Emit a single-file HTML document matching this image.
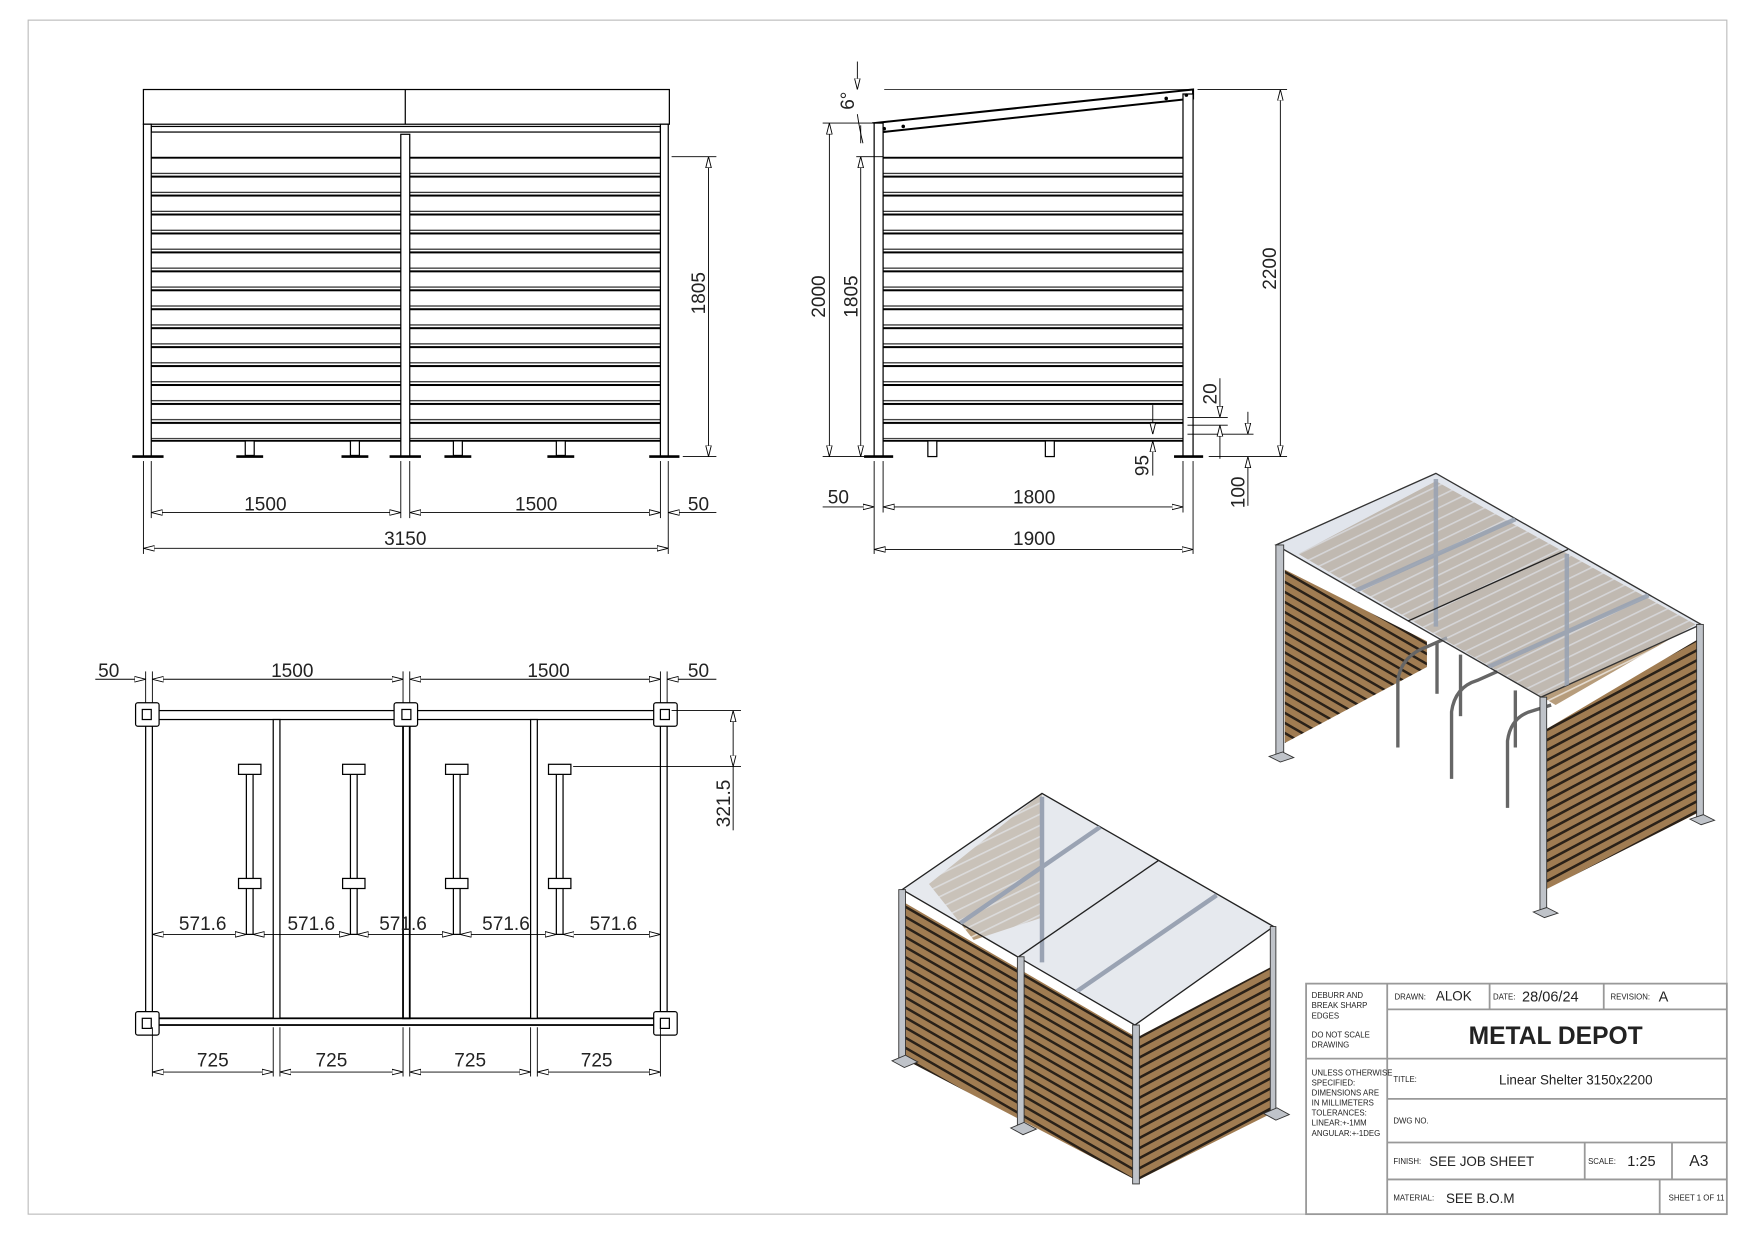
<!DOCTYPE html>
<html><head><meta charset="utf-8"><style>
html,body{margin:0;padding:0;background:#fff}
svg{display:block}
text{font-family:"Liberation Sans",sans-serif;fill:#222}
</style></head><body>
<svg width="1755" height="1241" viewBox="0 0 1568 1109" xmlns="http://www.w3.org/2000/svg">
<defs>
<marker id="a" viewBox="0 0 10 6" refX="10" refY="3" markerWidth="10" markerHeight="6" orient="auto-start-reverse" markerUnits="userSpaceOnUse"><path d="M0,0.5 L10,3 L0,5.5 Z" fill="#fff" stroke="#000" stroke-width="0.8"/></marker>
<pattern id="wl" width="20" height="9" patternUnits="userSpaceOnUse" patternTransform="skewY(30)"><rect width="20" height="9" fill="#a07c52"/><rect width="20" height="2.6" fill="#2a2118"/></pattern>
<pattern id="wr" width="20" height="9" patternUnits="userSpaceOnUse" patternTransform="skewY(-28)"><rect width="20" height="9" fill="#a07c52"/><rect width="20" height="2.6" fill="#2a2118"/></pattern>
<pattern id="wb" width="20" height="10" patternUnits="userSpaceOnUse" patternTransform="skewY(-26)"><rect width="20" height="10" fill="#b79d7c"/><rect width="20" height="1.6" fill="#e4dbd0"/></pattern>
<pattern id="slat" width="10" height="16.93" patternUnits="userSpaceOnUse" y="140"><rect width="10" height="16.93" fill="#fff"/><rect y="0" width="10" height="1.8" fill="#000"/><rect y="14.5" width="10" height="0.9" fill="#000"/></pattern>
<clipPath id="rr"><polygon points="1140,487 1283,423 1520,558 1377,623"/></clipPath>
<clipPath id="lr"><polygon points="806,795 931,709 1138,828 1014,916"/></clipPath>
</defs>
<rect x="25" y="18" width="1518" height="1067" fill="none" stroke="#bbb" stroke-width="1"/>

<g stroke="#000" stroke-width="1.1" fill="none">
<rect x="128" y="80" width="470" height="31" fill="#fff"/>
<line x1="362" y1="80" x2="362" y2="111"/>
<rect x="135" y="113" width="455" height="5" fill="#fff"/>
<rect x="135" y="140" width="223" height="254" fill="url(#slat)" stroke="none"/>
<rect x="366" y="140" width="224" height="254" fill="url(#slat)" stroke="none"/>
<line x1="135" y1="394" x2="590" y2="394" stroke-width="1.6"/>
<rect x="128" y="111" width="7" height="297" fill="#fff"/>
<rect x="358" y="120" width="8" height="288" fill="#fff"/>
<rect x="590" y="111" width="7" height="297" fill="#fff"/>
<g fill="#fff"><rect x="219" y="394" width="8" height="13"/><rect x="313" y="394" width="8" height="13"/><rect x="405" y="394" width="8" height="13"/><rect x="497" y="394" width="8" height="13"/></g>
<g stroke-width="2.4"><line x1="118" y1="408" x2="146" y2="408"/><line x1="211" y1="408" x2="235" y2="408"/><line x1="305" y1="408" x2="329" y2="408"/><line x1="348" y1="408" x2="376" y2="408"/><line x1="397" y1="408" x2="421" y2="408"/><line x1="489" y1="408" x2="513" y2="408"/><line x1="580" y1="408" x2="607" y2="408"/></g>
<g stroke-width="0.8"><line x1="128" y1="412" x2="128" y2="495"/><line x1="135" y1="412" x2="135" y2="463"/><line x1="358" y1="412" x2="358" y2="463"/><line x1="366" y1="412" x2="366" y2="463"/><line x1="590" y1="412" x2="590" y2="463"/><line x1="597" y1="412" x2="597" y2="495"/>
<line x1="135" y1="458" x2="358" y2="458" marker-start="url(#a)" marker-end="url(#a)"/>
<line x1="366" y1="458" x2="590" y2="458" marker-start="url(#a)" marker-end="url(#a)"/>
<line x1="640" y1="458" x2="597" y2="458" marker-end="url(#a)"/>
<line x1="128" y1="490" x2="597" y2="490" marker-start="url(#a)" marker-end="url(#a)"/>
<line x1="600" y1="140" x2="640" y2="140"/><line x1="610" y1="408" x2="640" y2="408"/>
<line x1="633" y1="140" x2="633" y2="408" marker-start="url(#a)" marker-end="url(#a)"/></g>

<rect x="789" y="140" width="268" height="254" fill="url(#slat)" stroke="none"/>
<line x1="789" y1="394" x2="1057" y2="394" stroke-width="1.6"/>
<polygon points="781,110 1066,80 1066,88 789,118" fill="#fff" stroke-width="1.8"/>
<rect x="781" y="110" width="8" height="298" fill="#fff"/>
<rect x="1057" y="84" width="9" height="324" fill="#fff"/>
<g fill="#000" stroke="none"><circle cx="790" cy="115" r="1.6"/><circle cx="807" cy="113" r="1.6"/><circle cx="1042" cy="88" r="1.6"/><circle cx="1060" cy="85" r="1.6"/></g>
<g fill="#fff"><rect x="829" y="394" width="8" height="14"/><rect x="934" y="394" width="8" height="14"/></g>
<g stroke-width="2.4"><line x1="772" y1="408" x2="798" y2="408"/><line x1="1049" y1="408" x2="1075" y2="408"/></g>
<g stroke-width="0.8">
<line x1="735" y1="110" x2="781" y2="110"/><line x1="735" y1="408" x2="775" y2="408"/>
<line x1="741" y1="110" x2="741" y2="408" marker-start="url(#a)" marker-end="url(#a)"/>
<line x1="765" y1="140" x2="789" y2="140"/>
<line x1="769" y1="140" x2="769" y2="408" marker-start="url(#a)" marker-end="url(#a)"/>
<line x1="1070" y1="80" x2="1150" y2="80"/><line x1="1080" y1="408" x2="1150" y2="408"/>
<line x1="1144" y1="80" x2="1144" y2="408" marker-start="url(#a)" marker-end="url(#a)"/>
<line x1="1066" y1="80" x2="790" y2="80" stroke-width="0.6"/>
<line x1="766" y1="55" x2="766" y2="80" marker-end="url(#a)"/><path d="M766,102 Q768,116 771,128"/><line x1="769" y1="112" x2="769" y2="128"/>
<line x1="1061" y1="373" x2="1097" y2="373"/><line x1="1061" y1="380" x2="1097" y2="380"/><line x1="1061" y1="388" x2="1120" y2="388"/>
<line x1="1090" y1="338" x2="1090" y2="373" marker-end="url(#a)"/><line x1="1090" y1="410" x2="1090" y2="380" marker-end="url(#a)"/>
<line x1="1030" y1="362" x2="1030" y2="388" marker-end="url(#a)"/><line x1="1030" y1="425" x2="1030" y2="394" marker-end="url(#a)"/>
<line x1="1115" y1="368" x2="1115" y2="388" marker-end="url(#a)"/><line x1="1115" y1="452" x2="1115" y2="408" marker-end="url(#a)"/>
<line x1="781" y1="412" x2="781" y2="495"/><line x1="789" y1="412" x2="789" y2="458"/><line x1="1057" y1="412" x2="1057" y2="458"/><line x1="1066" y1="412" x2="1066" y2="495"/>
<line x1="735" y1="453" x2="781" y2="453" marker-end="url(#a)"/>
<line x1="789" y1="453" x2="1057" y2="453" marker-start="url(#a)" marker-end="url(#a)"/>
<line x1="781" y1="491" x2="1066" y2="491" marker-start="url(#a)" marker-end="url(#a)"/></g>

<rect x="128" y="635" width="469" height="8" fill="#fff"/>
<rect x="128" y="910" width="469" height="6" fill="#fff" stroke-width="1.6"/>
<rect x="130" y="643" width="6" height="267" fill="#fff"/>
<rect x="590" y="643" width="6" height="267" fill="#fff"/>
<rect x="360" y="643" width="6" height="267" fill="#fff" stroke-width="1.6"/>
<rect x="244" y="643" width="6" height="267" fill="#fff"/>
<rect x="474" y="643" width="6" height="267" fill="#fff"/>
<g fill="#fff">
<rect x="121" y="628" width="21" height="21" rx="2"/><rect x="127" y="634" width="8" height="9"/>
<rect x="352" y="628" width="21" height="21" rx="2"/><rect x="359" y="634" width="8" height="9"/>
<rect x="584" y="628" width="21" height="21" rx="2"/><rect x="590" y="634" width="8" height="9"/>
<rect x="121" y="904" width="21" height="21" rx="2"/><rect x="127" y="910" width="8" height="9"/>
<rect x="584" y="904" width="21" height="21" rx="2"/><rect x="590" y="910" width="8" height="9"/>
</g>
<g fill="#fff">
<rect x="220" y="690" width="6" height="145"/><rect x="213" y="683" width="20" height="9"/><rect x="213" y="785" width="20" height="9"/>
<rect x="313" y="690" width="6" height="145"/><rect x="306" y="683" width="20" height="9"/><rect x="306" y="785" width="20" height="9"/>
<rect x="405" y="690" width="6" height="145"/><rect x="398" y="683" width="20" height="9"/><rect x="398" y="785" width="20" height="9"/>
<rect x="497" y="690" width="6" height="145"/><rect x="490" y="683" width="20" height="9"/><rect x="490" y="785" width="20" height="9"/>
</g>
<g stroke-width="0.8">
<line x1="130" y1="600" x2="130" y2="628"/><line x1="136" y1="600" x2="136" y2="628"/><line x1="360" y1="600" x2="360" y2="628"/><line x1="366" y1="600" x2="366" y2="628"/><line x1="590" y1="600" x2="590" y2="628"/><line x1="596" y1="600" x2="596" y2="628"/>
<line x1="85" y1="607" x2="130" y2="607" marker-end="url(#a)"/>
<line x1="136" y1="607" x2="360" y2="607" marker-start="url(#a)" marker-end="url(#a)"/>
<line x1="366" y1="607" x2="590" y2="607" marker-start="url(#a)" marker-end="url(#a)"/>
<line x1="640" y1="607" x2="596" y2="607" marker-end="url(#a)"/>
<line x1="600" y1="635" x2="662" y2="635"/><line x1="512" y1="685" x2="662" y2="685"/>
<line x1="655" y1="635" x2="655" y2="685" marker-start="url(#a)" marker-end="url(#a)"/><line x1="655" y1="685" x2="655" y2="742"/>
<line x1="136" y1="835" x2="220" y2="835" marker-start="url(#a)" marker-end="url(#a)"/>
<line x1="226" y1="835" x2="313" y2="835" marker-start="url(#a)" marker-end="url(#a)"/>
<line x1="319" y1="835" x2="405" y2="835" marker-start="url(#a)" marker-end="url(#a)"/>
<line x1="411" y1="835" x2="497" y2="835" marker-start="url(#a)" marker-end="url(#a)"/>
<line x1="503" y1="835" x2="590" y2="835" marker-start="url(#a)" marker-end="url(#a)"/>
<line x1="136" y1="918" x2="136" y2="962"/><line x1="244" y1="918" x2="244" y2="962"/><line x1="250" y1="918" x2="250" y2="962"/><line x1="360" y1="918" x2="360" y2="962"/><line x1="366" y1="918" x2="366" y2="962"/><line x1="474" y1="918" x2="474" y2="962"/><line x1="480" y1="918" x2="480" y2="962"/><line x1="590" y1="918" x2="590" y2="962"/>
<line x1="136" y1="958" x2="244" y2="958" marker-start="url(#a)" marker-end="url(#a)"/>
<line x1="250" y1="958" x2="360" y2="958" marker-start="url(#a)" marker-end="url(#a)"/>
<line x1="366" y1="958" x2="474" y2="958" marker-start="url(#a)" marker-end="url(#a)"/>
<line x1="480" y1="958" x2="590" y2="958" marker-start="url(#a)" marker-end="url(#a)"/>
</g>
</g>

<g font-size="17">
<text x="237" y="456" text-anchor="middle">1500</text><text x="479" y="456" text-anchor="middle">1500</text><text x="624" y="456" text-anchor="middle">50</text><text x="362" y="487" text-anchor="middle">3150</text>
<text transform="translate(630,262) rotate(-90)" text-anchor="middle">1805</text>
<text transform="translate(737,265) rotate(-90)" text-anchor="middle">2000</text>
<text transform="translate(766,265) rotate(-90)" text-anchor="middle">1805</text>
<text transform="translate(1140,240) rotate(-90)" text-anchor="middle">2200</text>
<text transform="translate(763,90) rotate(-90)" text-anchor="middle">6°</text>
<text transform="translate(1087,352) rotate(-90)" text-anchor="middle">20</text>
<text transform="translate(1026,416) rotate(-90)" text-anchor="middle">95</text>
<text transform="translate(1112,440) rotate(-90)" text-anchor="middle">100</text>
<text x="749" y="450" text-anchor="middle">50</text><text x="924" y="450" text-anchor="middle">1800</text><text x="924" y="487" text-anchor="middle">1900</text>
<text x="97" y="605" text-anchor="middle">50</text><text x="261" y="605" text-anchor="middle">1500</text><text x="490" y="605" text-anchor="middle">1500</text><text x="624" y="605" text-anchor="middle">50</text>
<text transform="translate(652,718) rotate(-90)" text-anchor="middle">321.5</text>
<text x="181" y="831" text-anchor="middle">571.6</text><text x="278" y="831" text-anchor="middle">571.6</text><text x="360" y="831" text-anchor="middle">571.6</text><text x="452" y="831" text-anchor="middle">571.6</text><text x="548" y="831" text-anchor="middle">571.6</text>
<text x="190" y="953" text-anchor="middle">725</text><text x="296" y="953" text-anchor="middle">725</text><text x="420" y="953" text-anchor="middle">725</text><text x="533" y="953" text-anchor="middle">725</text>
</g>

<!-- RIGHT ISO -->
<g>
<polygon points="1160,495 1283,430 1515,558 1390,630" fill="url(#wb)"/>
<polygon points="1148,509 1275,573 1275,596 1148,664" fill="url(#wl)"/>
<g stroke="#666" stroke-width="3" fill="none">
<path d="M1249,668 L1249,608 Q1252,586 1275,578 L1293,570"/>
<path d="M1297,696 L1297,636 Q1300,614 1320,608 L1338,600"/>
<path d="M1347,722 L1347,662 Q1350,640 1370,635 L1386,630"/>
<line x1="1305" y1="585" x2="1305" y2="640"/><line x1="1354" y1="617" x2="1354" y2="668"/><line x1="1284" y1="575" x2="1284" y2="620"/>
</g>
<polygon points="1140,487 1283,423 1520,558 1377,623" fill="#c9d0dc" fill-opacity="0.55" stroke="#333" stroke-width="1.2"/>
<g stroke="#9aa3b3" stroke-width="4" fill="none" opacity="0.9" clip-path="url(#rr)">
<line x1="1211" y1="528" x2="1354" y2="464"/><line x1="1330" y1="596" x2="1473" y2="532"/>
<line x1="1283" y1="428" x2="1283" y2="560"/><line x1="1400" y1="495" x2="1400" y2="625"/>
</g>
<line x1="1258" y1="555" x2="1401" y2="491" stroke="#222" stroke-width="1.2"/>
<polygon points="1381,652 1516,572 1516,727 1381,795" fill="url(#wr)"/>
<g fill="#bfc3c9" stroke="#333" stroke-width="0.8">
<rect x="1140" y="487" width="7" height="189"/><rect x="1376" y="623" width="6" height="192"/><rect x="1516" y="558" width="6" height="174"/>
<polygon points="1134,676 1146,672 1156,677 1144,681"/><polygon points="1370,815 1382,811 1392,816 1380,820"/><polygon points="1510,732 1522,728 1532,733 1520,737"/>
</g>
</g>

<!-- LEFT ISO -->
<g>
<polygon points="830,790 931,709 931,820 870,840" fill="url(#wb)"/>
<polygon points="807,806 1014,926 1014,1054 807,946" fill="url(#wl)"/>
<polygon points="1018,926 1136,864 1136,995 1018,1054" fill="url(#wr)"/>
<polygon points="806,795 931,709 1138,828 1014,916" fill="#d6dae2" fill-opacity="0.6" stroke="#222" stroke-width="1.2"/>
<g stroke="#9aa3b3" stroke-width="4" fill="none" clip-path="url(#lr)">
<line x1="858" y1="825" x2="983" y2="739"/><line x1="962" y1="886" x2="1087" y2="800"/><line x1="931" y1="712" x2="931" y2="860"/>
</g>
<line x1="910" y1="855" x2="1035" y2="769" stroke="#222" stroke-width="1.2"/>
<g fill="#bfc3c9" stroke="#333" stroke-width="0.8">
<rect x="803" y="795" width="6" height="153"/><rect x="909" y="855" width="6" height="153"/><rect x="1012" y="916" width="6" height="142"/><rect x="1135" y="828" width="5" height="167"/>
<polygon points="797,948 809,943 820,949 808,954"/><polygon points="903,1008 915,1003 926,1009 914,1014"/><polygon points="1129,995 1141,990 1152,996 1140,1001"/>
</g>
</g>

<!-- TITLE BLOCK -->
<g stroke="#999" stroke-width="1.6" fill="none">
<rect x="1167" y="879" width="376" height="206" fill="#fff"/>
<line x1="1239.5" y1="879" x2="1239.5" y2="1085"/>
<line x1="1167" y1="946" x2="1239.5" y2="946"/>
<line x1="1239.5" y1="902" x2="1543" y2="902"/><line x1="1239.5" y1="946" x2="1543" y2="946"/><line x1="1239.5" y1="982" x2="1543" y2="982"/><line x1="1239.5" y1="1021" x2="1543" y2="1021"/><line x1="1239.5" y1="1054" x2="1543" y2="1054"/>
<line x1="1331" y1="879" x2="1331" y2="902"/><line x1="1433" y1="879" x2="1433" y2="902"/>
<line x1="1416" y1="1021" x2="1416" y2="1054"/><line x1="1494" y1="1021" x2="1494" y2="1054"/><line x1="1483" y1="1054" x2="1483" y2="1085"/>
</g>
<g font-size="7" fill="#222">
<text x="1172" y="892">DEBURR AND</text><text x="1172" y="901">BREAK SHARP</text><text x="1172" y="910">EDGES</text><text x="1172" y="927">DO NOT SCALE</text><text x="1172" y="936">DRAWING</text>
<text x="1172" y="961">UNLESS OTHERWISE</text><text x="1172" y="970">SPECIFIED:</text><text x="1172" y="979">DIMENSIONS ARE</text><text x="1172" y="988">IN MILLIMETERS</text><text x="1172" y="997">TOLERANCES:</text><text x="1172" y="1006">LINEAR:+-1MM</text><text x="1172" y="1015">ANGULAR:+-1DEG</text>
<text x="1246" y="893">DRAWN:</text><text x="1334" y="893">DATE:</text><text x="1439" y="893">REVISION:</text>
<text x="1245" y="967">TITLE:</text><text x="1245" y="1004">DWG NO.</text><text x="1245" y="1040">FINISH:</text><text x="1419" y="1040">SCALE:</text><text x="1245" y="1073">MATERIAL:</text><text x="1491" y="1073">SHEET 1 OF 11</text>
</g>
<g font-size="12" fill="#111">
<text x="1283" y="894">ALOK</text><text x="1360" y="895" font-size="13">28/06/24</text><text x="1482" y="895" font-size="13">A</text>
<text x="1408" y="969" text-anchor="middle">Linear Shelter 3150x2200</text>
<text x="1277" y="1042">SEE JOB SHEET</text><text x="1454" y="1042" font-size="13">1:25</text><text x="1518" y="1042" font-size="14" text-anchor="middle">A3</text>
<text x="1292" y="1075">SEE B.O.M</text>
</g>
<text x="1390" y="933" text-anchor="middle" font-size="22" font-weight="bold" fill="#000">METAL DEPOT</text>
</svg>
</body></html>
